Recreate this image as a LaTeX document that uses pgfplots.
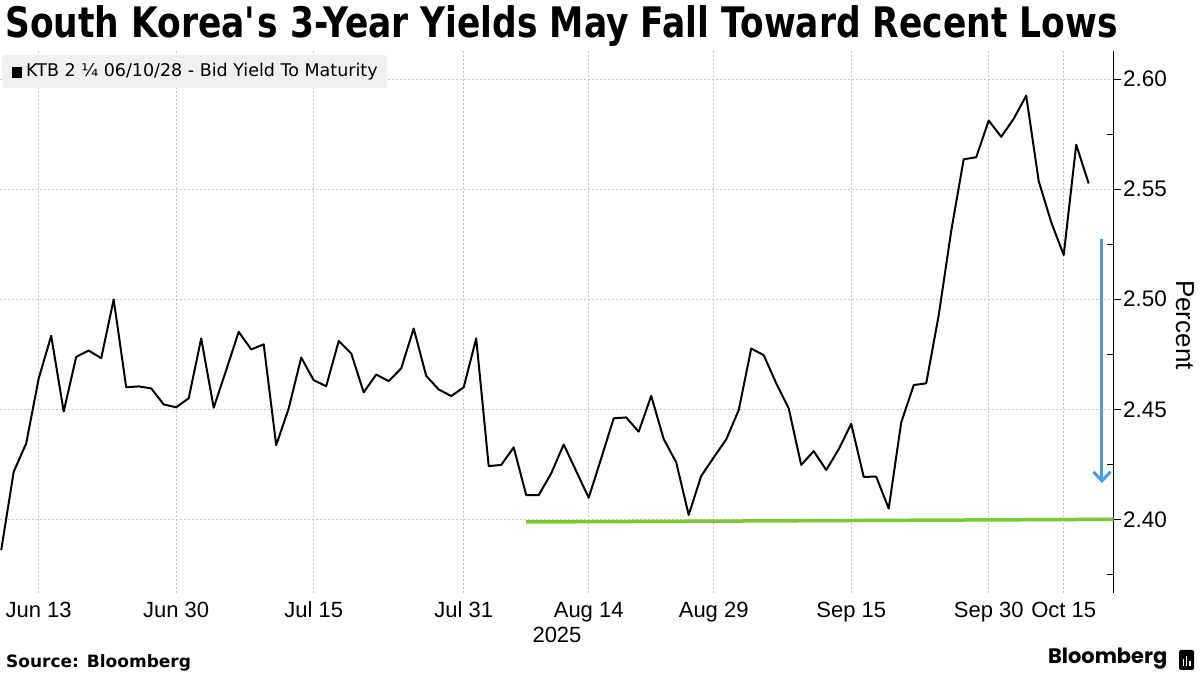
\documentclass[border=0pt]{standalone}
\usepackage{fontspec}
\usepackage{pgfplots}
\pgfplotsset{compat=1.18}
\usetikzlibrary{arrows.meta}
\setmainfont{Liberation Sans}
\newfontfamily\tickfont{Liberation Sans}
\newfontfamily\titlefont{DejaVu Sans Bold}[FakeStretch=0.82]
\newfontfamily\legfont{DejaVu Sans}
\newfontfamily\srcfont{DejaVu Sans Bold}
\newfontfamily\logofont{Poppins}
\definecolor{gridc}{RGB}{200,200,200}
\definecolor{lime}{RGB}{122,201,45}
\definecolor{arrowblue}{RGB}{70,156,234}
\definecolor{legbg}{RGB}{240,240,240}
\begin{document}
\begin{tikzpicture}
\useasboundingbox (0,0) rectangle (1200pt,675pt);
\begin{axis}[
  at={(0pt,81.5pt)}, anchor=south west,
  width=1113.5pt, height=542.5pt, scale only axis,
  xmin=-3.096, xmax=85.984, ymin=2.3663, ymax=2.6128,
  axis y line*=right, axis x line*=bottom,
  axis line style={-},
  x axis line style={draw=none},
  y axis line style={line width=1.3pt, black},
  xtick={0,11,22,34,44,54,65,76,82},
  xticklabels={Jun 13,Jun 30,Jul 15,Jul 31,Aug 14,Aug 29,Sep 15,Sep 30,Oct 15},
  x tick style={draw=none},
  ytick={2.40,2.45,2.50,2.55,2.60},
  extra y ticks={2.375,2.425,2.475,2.525,2.575},
  extra y tick labels={},
  extra y tick style={grid=none, tick align=inside, major tick length=7pt, y tick style={line width=1.1pt, black}},
  y tick style={line width=1.3pt, black},
  tick align=outside, major tick length=7pt,
  grid=major,
  major grid style={gridc, dash pattern=on 2pt off 2pt, line width=0.9pt},
  /pgf/number format/.cd, fixed, fixed zerofill, precision=2, assume math mode=true,
  /pgfplots/.cd,
  yticklabel style={font=\tickfont\fontsize{22.5}{22.5}\selectfont, anchor=west, xshift=-1pt},
  xticklabel style={font=\tickfont\fontsize{22}{22}\selectfont, anchor=base, yshift=-16.8pt},
  clip=false,
]
\addplot[black, line width=2pt, line join=round] coordinates {
(-3,2.386) (-2,2.4216) (-1,2.4345) (0,2.464) (1,2.4834) (2,2.449) (3,2.4738) (4,2.4767)
(5,2.4732) (6,2.4999) (7,2.460) (8,2.4604) (9,2.4595) (10,2.4522) (11,2.4509) (12,2.455)
(13,2.4822) (14,2.4507) (15,2.4678) (16,2.4852) (17,2.4772) (18,2.4795) (19,2.4337) (20,2.4504)
(21,2.4735) (22,2.4632) (23,2.4605) (24,2.481) (25,2.4754) (26,2.4577) (27,2.4658) (28,2.4628)
(29,2.4686) (30,2.4867) (31,2.4652) (32,2.459) (33,2.456) (34,2.460) (35,2.4822) (36,2.4242)
(37,2.4247) (38,2.4327) (39,2.411) (40,2.411) (41,2.4209) (42,2.434) (43,2.4219) (44,2.4098)
(45,2.4277) (46,2.4459) (47,2.4463) (48,2.4398) (49,2.4561) (50,2.4365) (51,2.4259) (52,2.402)
(53,2.4197) (54,2.4281) (55,2.4363) (56,2.4496) (57,2.4776) (58,2.4746) (59,2.4618) (60,2.4504)
(61,2.4247) (62,2.431) (63,2.4224) (64,2.4318) (65,2.4434) (66,2.4193) (67,2.4194) (68,2.4049)
(69,2.444) (70,2.461) (71,2.4618) (72,2.4927) (73,2.531) (74,2.5636) (75,2.5645) (76,2.5812)
(77,2.5738) (78,2.582) (79,2.5925) (80,2.5537) (81,2.535) (82,2.5201) (83,2.5702) (84,2.5526)
};
\addplot[lime, line width=3.5pt] coordinates {(39,2.3988) (85.984,2.4000)};
\addplot[arrowblue, line width=3pt, -{Straight Barb[length=9pt, width=17pt, line width=3pt]}] coordinates {(85.06,2.5273) (85.06,2.4165)};
\end{axis}
% legend box
\fill[legbg, rounded corners=3pt] (2pt,587pt) rectangle (387pt,620pt);
\fill[black] (11.5pt,597pt) rectangle (21.5pt,608pt);
\node[anchor=west, inner sep=0pt, font=\legfont\fontsize{17.5}{17.5}\selectfont] at (26pt,603pt) {KTB 2 ¼ 06/10/28 - Bid Yield To Maturity};
% title
\node[anchor=base west, inner sep=0pt] at (5pt,637pt) {\resizebox{1112pt}{!}{\titlefont South Korea\textquotesingle s 3-Year Yields May Fall Toward Recent Lows}};
% y label
\node[rotate=-90, inner sep=0pt, font=\tickfont\fontsize{26}{26}\selectfont] at (1185pt,350pt) {Percent};
% year
\node[inner sep=0pt, font=\tickfont\fontsize{22}{22}\selectfont] at (557pt,40.3pt) {2025};
% source
\node[anchor=base west, inner sep=0pt, font=\srcfont\fontsize{17}{17}\selectfont] at (6pt,7.7pt) {Source: Bloomberg};
% logo
\node[anchor=west, inner sep=0pt] at (1048pt,16pt) {\resizebox{119pt}{!}{\logofont\bfseries Bloomberg}};
\fill[black, rounded corners=2pt] (1179pt,5pt) rectangle (1194pt,25pt);
\fill[white] (1182.5pt,9pt) rectangle (1184pt,16pt);
\fill[white] (1185.8pt,9pt) rectangle (1187.3pt,19pt);
\fill[white] (1189pt,9pt) rectangle (1190.5pt,14pt);
\end{tikzpicture}
\end{document}
